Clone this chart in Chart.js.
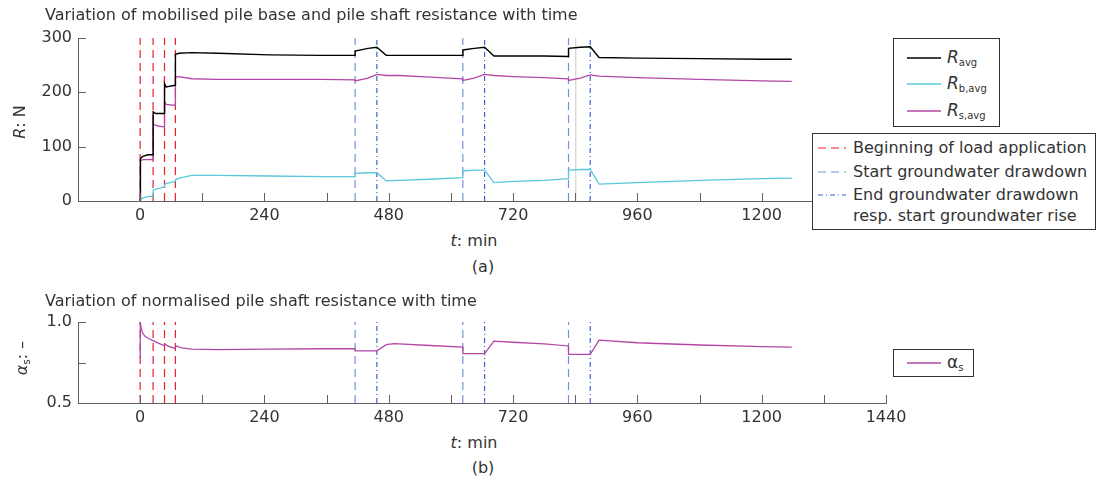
<!DOCTYPE html>
<html>
<head>
<meta charset="utf-8">
<script src="https://cdn.jsdelivr.net/npm/chart.js@4"></script>
<style>
  body { margin: 0; background: #fff; }
  #page { position: relative; width: 1096px; height: 492px; font-family: "DejaVu Sans", sans-serif; color: #333; }
  .txt { position: absolute; white-space: nowrap; font-size: 16px; line-height: 1; }
  .rot { transform: translate(-50%, -50%) rotate(-90deg); }
  .ctr { transform: translate(-50%, -50%); }
  .box { position: absolute; background: #fff; border: 1px solid #333; box-sizing: border-box; }
  .row { position: absolute; left: 0; height: 20px; display: flex; align-items: center; }
  .row svg { flex: none; }
  sub { font-size: 10px; font-style: normal; vertical-align: -3px; }
  canvas { position: absolute; left: 0; }
</style>
</head>
<body>
<div id="page">
  <canvas id="topChart" style="top:0"></canvas>
  <canvas id="bottomChart" style="top:290px"></canvas>

  <div class="txt" style="left:45px;top:7px">Variation of mobilised pile base and pile shaft resistance with time</div>
  <div class="txt rot" style="left:20px;top:122px"><i>R</i>: N</div>
  <div class="txt ctr" style="left:474px;top:241px"><i>t</i>: min</div>
  <div class="txt ctr" style="left:483px;top:267px">(a)</div>

  <div class="txt" style="left:45px;top:293px">Variation of normalised pile shaft resistance with time</div>
  <div class="txt rot" style="left:23px;top:358px"><i>α<sub>s</sub></i>: –</div>
  <div class="txt ctr" style="left:474px;top:443px"><i>t</i>: min</div>
  <div class="txt ctr" style="left:483px;top:468px">(b)</div>

  <div class="box" style="left:893px;top:38px;width:107px;height:89px">
    <div class="row" style="left:13px;top:9px"><svg width="34" height="4"><line x1="0" y1="2" x2="34" y2="2" stroke="#000" stroke-width="1.3"/></svg><span class="txt" style="position:static;margin-left:6px;font-size:17px"><i>R</i><sub>avg</sub></span></div>
    <div class="row" style="left:13px;top:35px"><svg width="34" height="4"><line x1="0" y1="2" x2="34" y2="2" stroke="#5ac8da" stroke-width="1.3"/></svg><span class="txt" style="position:static;margin-left:6px;font-size:17px"><i>R</i><sub>b,avg</sub></span></div>
    <div class="row" style="left:13px;top:62px"><svg width="34" height="4"><line x1="0" y1="2" x2="34" y2="2" stroke="#b447a6" stroke-width="1.3"/></svg><span class="txt" style="position:static;margin-left:6px;font-size:17px"><i>R</i><sub>s,avg</sub></span></div>
  </div>

  <div class="box" style="left:812px;top:133px;width:284px;height:97px">
    <div class="row" style="left:5px;top:4px"><svg width="28" height="4"><line x1="0" y1="2" x2="28" y2="2" stroke="#e8202a" stroke-width="1.2" stroke-dasharray="8,5"/></svg><span class="txt" style="position:static;margin-left:7px">Beginning of load application</span></div>
    <div class="row" style="left:5px;top:28px"><svg width="28" height="4"><line x1="0" y1="2" x2="28" y2="2" stroke="#6f93d6" stroke-width="1.2" stroke-dasharray="8,5"/></svg><span class="txt" style="position:static;margin-left:7px">Start groundwater drawdown</span></div>
    <div class="row" style="left:5px;top:51px"><svg width="28" height="4"><line x1="0" y1="2" x2="28" y2="2" stroke="#3a66cc" stroke-width="1.2" stroke-dasharray="5,3,1,3"/></svg><span class="txt" style="position:static;margin-left:7px">End groundwater drawdown</span></div>
    <div class="row" style="left:40px;top:72px"><span class="txt" style="position:static">resp. start groundwater rise</span></div>
  </div>

  <div class="box" style="left:893px;top:349px;width:81px;height:28px">
    <div class="row" style="left:13px;top:3px"><svg width="34" height="4"><line x1="0" y1="2" x2="34" y2="2" stroke="#b447a6" stroke-width="1.3"/></svg><span class="txt" style="position:static;margin-left:6px;font-size:17px">α<sub>s</sub></span></div>
  </div>
</div>

<script>
"use strict";

// time axis for the resistance curves (min)
var times  = [0, 0.5, 5, 15, 24.9, 25.1, 30, 46.9, 47.1, 50, 67.9, 68.1, 75, 100, 150, 250, 350,
              414.9, 415.1, 440, 457, 475, 500, 560, 622.9, 623.1, 645, 665, 683, 720, 780,
              826.9, 827.1, 850, 869, 886, 960, 1080, 1200, 1258];
var rAvg   = [0, 78, 82, 85, 85, 164, 161, 161, 216, 210, 213, 270, 272, 273, 272, 269, 268,
              268, 276, 281, 283, 268, 268, 268, 268, 278, 281, 283, 267, 267, 267,
              266, 281, 283, 284, 264, 263, 262, 261, 261];
var rBase  = [0, 3, 6, 8, 9, 20, 22, 26, 30, 32, 36, 39, 42, 47, 47, 46, 45,
              45, 51, 52, 52, 37, 38, 40, 43, 55, 57, 57, 34, 36, 38,
              41, 57, 58, 58, 31, 34, 38, 41, 42];
var rShaft = [0, 74, 76, 76, 76, 142, 139, 136, 184, 178, 176, 228, 229, 225, 224, 224, 224,
              223, 221, 226, 233, 231, 231, 228, 225, 222, 226, 233, 231, 229, 227,
              225, 222, 226, 232, 230, 227, 224, 221, 220];

// normalised shaft resistance
var alphaTimes = [0, 0.3, 2, 5, 10, 18, 25, 35, 46, 48, 55, 67, 70, 80, 100, 150, 250, 350,
                  414.9, 415.1, 457, 475, 490, 560, 622.9, 623.1, 665, 683, 720, 780,
                  826.9, 827.1, 869, 886, 960, 1080, 1200, 1258];
var alphaS     = [0.78, 1.0, 0.96, 0.93, 0.91, 0.895, 0.885, 0.87, 0.855, 0.862, 0.85, 0.838, 0.852, 0.84, 0.832, 0.83, 0.833, 0.835,
                  0.836, 0.822, 0.822, 0.86, 0.866, 0.855, 0.845, 0.805, 0.805, 0.882, 0.875, 0.865,
                  0.852, 0.8, 0.8, 0.888, 0.872, 0.858, 0.848, 0.845];

// event markers (min)
var loadStarts     = [0, 25, 47, 68];
var drawdownStarts = [415, 623, 827];
var drawdownEnds   = [457, 665, 869];
var cursorLine     = [841];

var xTickLabels = [0, 240, 480, 720, 960, 1200, 1440];

var TEXT = "#333";
var AXIS = "#606060";
var FONT = {family: "DejaVu Sans", size: 16};

function toPoints(xs, ys) {
    return xs.map(function(x, i) { return {x: x, y: ys[i]}; });
}

function vLines(list, lo, hi, color, dash) {
    return list.map(function(t) {
        return {
            data: [{x: t, y: lo}, {x: t, y: hi}],
            borderColor: color,
            borderWidth: 1.2,
            borderDash: dash,
            pointRadius: 0
        };
    });
}

// MATLAB style ticks pointing into the plot
var inwardTicks = {
    id: "inwardTicks",
    afterDraw: function(chart) {
        var ctx = chart.ctx, a = chart.chartArea;
        var xs = chart.scales.x, ys = chart.scales.y;
        ctx.save();
        ctx.strokeStyle = AXIS;
        ctx.lineWidth = 1;
        ctx.beginPath();
        xs.ticks.forEach(function(t) {
            var px = Math.round(xs.getPixelForValue(t.value)) + 0.5;
            ctx.moveTo(px, a.bottom);
            ctx.lineTo(px, a.bottom - 8);
        });
        ys.ticks.forEach(function(t) {
            var py = Math.round(ys.getPixelForValue(t.value)) + 0.5;
            ctx.moveTo(a.left, py);
            ctx.lineTo(a.left + 8, py);
        });
        ctx.stroke();
        ctx.restore();
    }
};

function xScale(h) {
    return {
        type: "linear",
        min: -120,
        max: 1440,
        grid: {display: false, drawTicks: false},
        border: {display: true, color: AXIS, width: 1},
        ticks: {
            stepSize: 120,
            autoSkip: false,
            maxRotation: 0,
            padding: 5,
            color: TEXT,
            font: FONT,
            callback: function(v) { return xTickLabels.indexOf(v) >= 0 ? v : ""; }
        },
        afterFit: function(s) { s.height = h; }
    };
}

function yScale(min, max, step, fmt) {
    return {
        type: "linear",
        min: min,
        max: max,
        grid: {display: false, drawTicks: false},
        border: {display: true, color: AXIS, width: 1},
        ticks: {
            stepSize: step,
            padding: 6,
            color: TEXT,
            font: FONT,
            callback: fmt
        },
        afterFit: function(s) { s.width = 78; }
    };
}

var commonOpts = {
    responsive: false,
    animation: false,
    events: [],
    plugins: {legend: {display: false}, tooltip: {enabled: false}}
};

var topCanvas = document.getElementById("topChart");
topCanvas.width = 1096; topCanvas.height = 230;
new Chart(topCanvas, {
    type: "line",
    data: {
        datasets: [
            {label: "R_avg", data: toPoints(times, rAvg), borderColor: "#000", borderWidth: 1.4, pointRadius: 0},
            {label: "R_b,avg", data: toPoints(times, rBase), borderColor: "#5ac8da", borderWidth: 1.3, pointRadius: 0},
            {label: "R_s,avg", data: toPoints(times, rShaft), borderColor: "#b447a6", borderWidth: 1.3, pointRadius: 0}
        ]
        .concat(vLines(loadStarts, 0, 300, "#e8202a", [8, 5]))
        .concat(vLines(drawdownStarts, 0, 300, "#6f93d6", [8, 5]))
        .concat(vLines(drawdownEnds, 0, 300, "#3a66cc", [5, 3, 1, 3]))
        .concat(vLines(cursorLine, 0, 300, "#d4d4d4", []))
    },
    options: Object.assign({}, commonOpts, {
        layout: {padding: {left: 0, top: 38, right: 210, bottom: 0}},
        scales: {
            x: xScale(29),
            y: yScale(0, 300, 100, function(v) { return v; })
        }
    }),
    plugins: [inwardTicks]
});

var bottomCanvas = document.getElementById("bottomChart");
bottomCanvas.width = 1096; bottomCanvas.height = 140;
new Chart(bottomCanvas, {
    type: "line",
    data: {
        datasets: [
            {label: "alpha_s", data: toPoints(alphaTimes, alphaS), borderColor: "#b447a6", borderWidth: 1.3, pointRadius: 0}
        ]
        .concat(vLines(loadStarts, 0.5, 1.0, "#e8202a", [8, 5]))
        .concat(vLines(drawdownStarts, 0.5, 1.0, "#6f93d6", [8, 5]))
        .concat(vLines(drawdownEnds, 0.5, 1.0, "#3a66cc", [5, 3, 1, 3]))
    },
    options: Object.assign({}, commonOpts, {
        layout: {padding: {left: 0, top: 32, right: 210, bottom: 0}},
        scales: {
            x: xScale(27),
            y: yScale(0.5, 1.0, 0.25, function(v) { return Math.abs(v - 0.75) < 1e-6 ? "" : v.toFixed(1); })
        }
    }),
    plugins: [inwardTicks]
});
</script>
</body>
</html>
